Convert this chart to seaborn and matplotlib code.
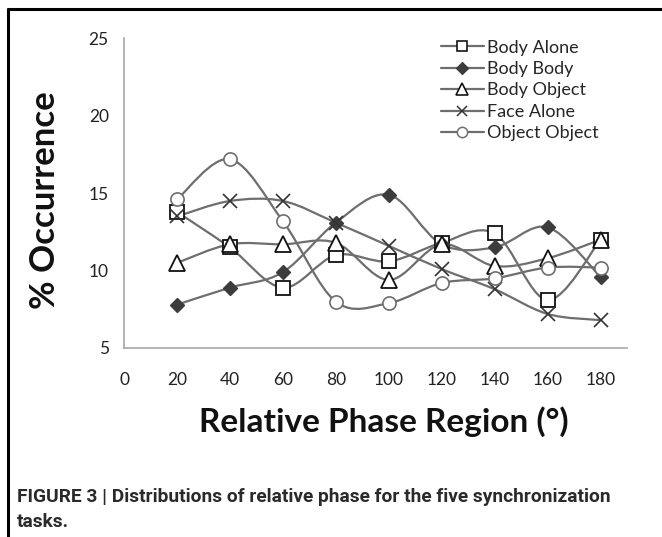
import numpy as np
import pandas as pd
import matplotlib
matplotlib.use("Agg")
import matplotlib.pyplot as plt
from matplotlib.path import Path
from matplotlib.patches import PathPatch
from matplotlib.lines import Line2D
import seaborn as sns

# values
phase = [20, 40, 60, 80, 100, 120, 140, 160, 180]
body_alone = [13.8, 11.5, 8.9, 11.0, 10.6, 11.8, 12.4, 8.1, 12.0]
body_body = [7.8, 8.9, 9.9, 13.1, 14.9, 11.7, 11.5, 12.8, 9.6]
body_object = [10.5, 11.7, 11.7, 11.8, 9.4, 11.7, 10.3, 10.8, 12.0]
face_alone = [13.5, 14.5, 14.5, 13.1, 11.6, 10.1, 8.8, 7.2, 6.8]
object_object = [14.6, 17.2, 13.2, 8.0, 7.9, 9.2, 9.5, 10.2, 10.2]

series_names = ["Body Alone", "Body Body", "Body Object", "Face Alone", "Object Object"]
series_values = [body_alone, body_body, body_object, face_alone, object_object]
x_ticks = [0, 20, 40, 60, 80, 100, 120, 140, 160, 180]
y_ticks = [5, 10, 15, 20, 25]

df = pd.DataFrame({
    "phase": phase * len(series_names),
    "task": np.repeat(series_names, len(phase)),
    "pct": np.concatenate(series_values),
})

line_col = "#6e6e6e"
# marker style per task: (marker, face, edge, size, edge width)
styles = {
    "Body Alone": ("s", "white", "#111111", 10, 1.3),
    "Body Body": ("D", "#3c3c3c", "#3c3c3c", 7.5, 1.0),
    "Body Object": ("^", "white", "#111111", 11.5, 1.3),
    "Face Alone": ("x", "none", "#333333", 10, 1.2),
    "Object Object": ("o", "white", "#6e6e6e", 9.5, 1.2),
}


def smooth_path(xs, ys):
    # Excel-like smoothed line: Catmull-Rom segments as cubic Bezier curves
    pts = np.column_stack([xs, ys]).astype(float)
    n = len(pts)
    verts = [pts[0]]
    codes = [Path.MOVETO]
    for i in range(n - 1):
        p0 = pts[max(i - 1, 0)]
        p1 = pts[i]
        p2 = pts[i + 1]
        p3 = pts[min(i + 2, n - 1)]
        verts += [p1 + (p2 - p0) / 6, p2 - (p3 - p1) / 6, p2]
        codes += [Path.CURVE4] * 3
    return Path(verts, codes)


sns.set_style("white")
plt.rcParams["font.family"] = ["Lato", "DejaVu Sans"]

fig = plt.figure(figsize=(6.62, 5.37), dpi=100)
ax = fig.add_axes([124 / 662, 1 - 348 / 537, (627 - 124) / 662, (348 - 38.5) / 537])

for name in series_names:
    sub = df[df["task"] == name]
    ax.add_patch(PathPatch(smooth_path(sub["phase"], sub["pct"]), facecolor="none",
                           edgecolor=line_col, lw=1.6, zorder=2))

for name in series_names:
    sub = df[df["task"] == name]
    m, fc, ec, ms, mew = styles[name]
    ax.plot(sub["phase"], sub["pct"], linestyle="none", marker=m, markersize=ms,
            markerfacecolor=fc, markeredgecolor=ec, markeredgewidth=mew, zorder=3)

ax.set_xlim(0, 190)
ax.set_ylim(5, 25)
ax.set_xticks(x_ticks)
ax.set_yticks(y_ticks)
ax.set_xlabel("")
ax.set_ylabel("")
for s in ["top", "right"]:
    ax.spines[s].set_visible(False)
for s in ["left", "bottom"]:
    ax.spines[s].set_color("#a8a8a8")
    ax.spines[s].set_linewidth(1.2)
ax.tick_params(axis="both", direction="out", length=5, width=1, color="#a8a8a8",
               labelsize=12.5, labelcolor="#222222")
ax.tick_params(axis="x", pad=12)
ax.tick_params(axis="y", pad=6)

handles = []
for name in series_names:
    m, fc, ec, ms, mew = styles[name]
    handles.append(Line2D([0], [0], color=line_col, lw=1.6, marker=m, markersize=ms * 0.78,
                          markerfacecolor=fc, markeredgecolor=ec, markeredgewidth=mew * 0.9))
fig.legend(handles, series_names, loc="upper left", bbox_to_anchor=(428 / 662, 1 - 27 / 537),
           frameon=False, fontsize=13, handlelength=2.4, handletextpad=0.15,
           labelspacing=0.3, borderpad=0.2)

fig.text(45 / 662, 1 - 200 / 537, "% Occurrence", rotation=90, ha="center", va="center",
         fontsize=25, fontweight="bold", color="#111111")
fig.text(384 / 662, 1 - 422 / 537, "Relative Phase Region (°)", ha="center", va="center",
         fontsize=24, fontweight="bold", color="#111111")

cap_font = ["Roboto", "DejaVu Sans"]
fig.text(17 / 662, 1 - 497 / 537,
         "FIGURE 3 | Distributions of relative phase for the five synchronization",
         ha="left", va="center", fontsize=13.8, fontweight="bold", color="#2a2a2a", family=cap_font)
fig.text(17 / 662, 1 - 522 / 537, "tasks.", ha="left", va="center", fontsize=13.8,
         fontweight="bold", color="#2a2a2a", family=cap_font)

# frame lines on the left and top of the figure panel
fig.add_artist(Line2D([8 / 662, 8 / 662], [0, 1 - 9 / 537], transform=fig.transFigure,
                      color="black", lw=2.2))
fig.add_artist(Line2D([8 / 662, 1], [1 - 9 / 537, 1 - 9 / 537], transform=fig.transFigure,
                      color="black", lw=2.2))

fig.savefig("out.png", dpi=100)
